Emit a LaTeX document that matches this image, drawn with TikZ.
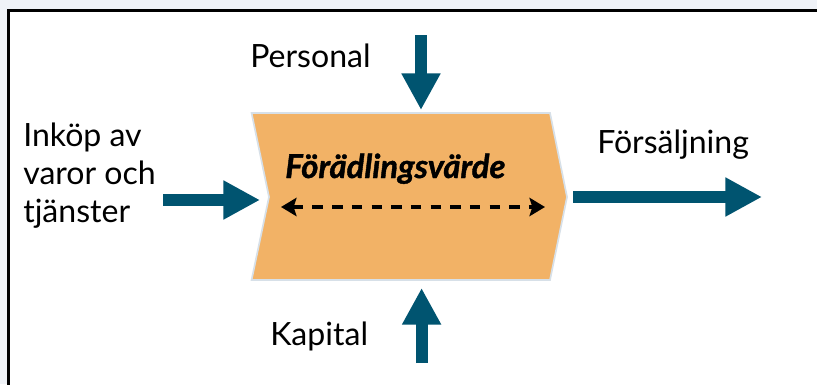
\documentclass[tikz,border=0pt]{standalone}
\usepackage{fontspec}
\setmainfont{Lato}
\usepackage{tikz}
\usetikzlibrary{arrows.meta,positioning}
\definecolor{fvblue}{RGB}{0,84,112}
\definecolor{fvorange}{RGB}{242,178,102}
\definecolor{fvedge}{RGB}{215,224,232}
\definecolor{fvback}{RGB}{239,242,247}
\tikzstyle{bigarrow} = [line width=8.5pt,-{Triangle[length=26pt,width=26pt]},color=fvblue]
\tikzstyle{txt} = [inner sep=0pt,anchor=base west,font=\fontsize{22.8}{26.7}\selectfont]

\begin{document}
\begin{tikzpicture}
\useasboundingbox (0,0) rectangle (20.425,9.6);
% Background and frame
\fill[fvback] (0,0) rectangle (20.425,9.6);
\begin{scope}
\clip (0,0) rectangle (20.425,9.6);
\draw[line width=2pt, fill=white] (0.2125,-0.5) rectangle (21,9.3375);
\end{scope}

% Chevron
\draw[fill=fvorange, draw=fvedge, line width=1.2pt] (6.29,6.775) -- (13.75,6.775) -- (14.175,4.675)
  -- (13.75,2.6) -- (6.29,2.6) -- (6.725,4.675) -- cycle;
\node[inner sep=0pt, anchor=base west, font=\fontsize{23.4}{28}\selectfont\bfseries\itshape\addfontfeatures{FakeBold=1.2}] (fv) at (7.125,5.15) {Förädlingsvärde};
\coordinate (fvL) at (7.025,4.425);
\coordinate (fvR) at (13.625,4.425);
\draw[line width=2.8pt, dash pattern=on 7.5pt off 6.5pt, {Stealth[length=11pt,width=13pt,inset=2pt]}-{Stealth[length=11pt,width=13pt,inset=2pt]}] (fvL) -- (fvR);

% Labels
\node[txt] (pers) at (6.25,7.925) {Personal};
\node[txt] (kap) at (6.75,0.975) {Kapital};
\node[txt] (fors) at (14.925,5.775) {Försäljning};
\node[txt, align=left] (ink) at (0.575,4.05) {Inköp av\\varor och\\tjänster};

% Arrows
\coordinate (persA) at (10.525,8.725);
\coordinate (persB) at (10.525,6.85);
\draw[bigarrow] (persA) -- (persB);
\coordinate (kapA) at (10.54,0.525);
\coordinate (kapB) at (10.54,2.4);
\draw[bigarrow] (kapA) -- (kapB);
\coordinate (inkA) at (4.075,4.6);
\coordinate (inkB) at (6.5,4.6);
\draw[bigarrow] (inkA) -- (inkB);
\coordinate (forsA) at (14.325,4.675);
\coordinate (forsB) at (19.05,4.675);
\draw[bigarrow] (forsA) -- (forsB);
\end{tikzpicture}
\end{document}
